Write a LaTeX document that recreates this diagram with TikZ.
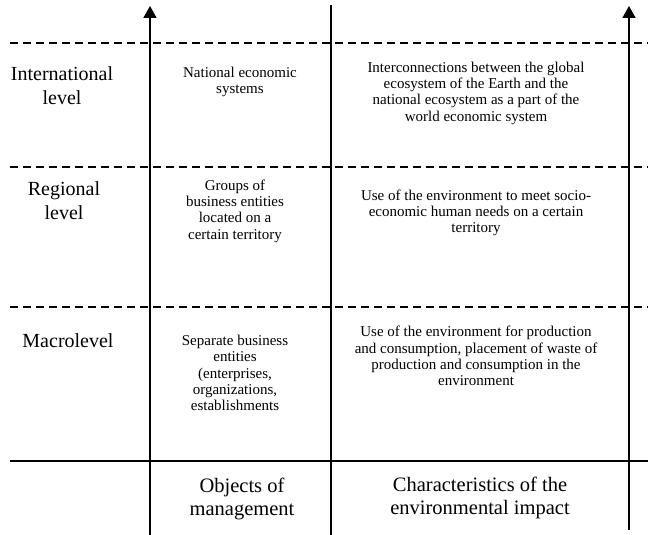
\documentclass[tikz,border=0pt]{standalone}
\usepackage{fontspec}
\setmainfont{Liberation Serif}
\usetikzlibrary{arrows.meta}

\begin{document}
\begin{tikzpicture}[x=1pt, y=-1pt,
    levelname/.style={font=\fontsize{20}{24}\selectfont, align=center, inner sep=0pt},
    entry/.style={font=\fontsize{15}{16.3}\selectfont, align=center, inner sep=0pt},
    heading/.style={font=\fontsize{20.5}{22.5}\selectfont, align=center, inner sep=0pt},
    axisline/.style={line width=1.8pt, -{Triangle[length=12pt, width=13pt]}},
    divider/.style={line width=1.3pt, dash pattern=on 8pt off 5pt}]
  \useasboundingbox (0,0) rectangle (648,535);

  % axes and the middle rule
  \coordinate (lb) at (150,535);
  \coordinate (lt) at (150,6);
  \coordinate (mb) at (331,535);
  \coordinate (mt) at (331,5);
  \coordinate (rb) at (629,530);
  \coordinate (rt) at (629,6);
  \draw[axisline] (lb) -- (lt);
  \draw[line width=1.5pt] (mb) -- (mt);
  \draw[axisline] (rb) -- (rt);

  % level borders
  \foreach \y/\n in {43/one, 167/two, 307/three}
  {
    \coordinate (\n w) at (10,\y);
    \coordinate (\n e) at (648,\y);
    \draw[divider] (\n w) -- (\n e);
  }
  \coordinate (basew) at (10,461);
  \coordinate (basee) at (648,461);
  \draw[line width=1.3pt] (basew) -- (basee);

  % levels
  \node[levelname] (intl) at (62,86) {International\\level};
  \node[levelname] (regional) at (64,201) {Regional\\level};
  \node[levelname] (macro) at (68,341) {Macrolevel};

  % objects of management
  \node[entry] (national) at (240,82) {National economic\\systems};
  \node[entry] (groups) at (235,211) {Groups of\\business entities\\located on a\\certain territory};
  \node[entry] (separate) at (235,373) {Separate business\\entities\\(enterprises,\\organizations,\\establishments};

  % impact
  \node[entry] (global) at (476,93) {Interconnections between the global\\ecosystem of the Earth and the\\national ecosystem as a part of the\\world economic system};
  \node[entry] (needs) at (476,213) {Use of the environment to meet socio-\\economic human needs on a certain\\territory};
  \node[entry] (waste) at (476,356) {Use of the environment for production\\and consumption, placement of waste of\\production and consumption in the\\environment};

  % column headings
  \node[heading] (objects) at (242,499) {Objects of\\management};
  \node[heading] (impact) at (480,498) {Characteristics of the\\environmental impact};
\end{tikzpicture}
\end{document}
